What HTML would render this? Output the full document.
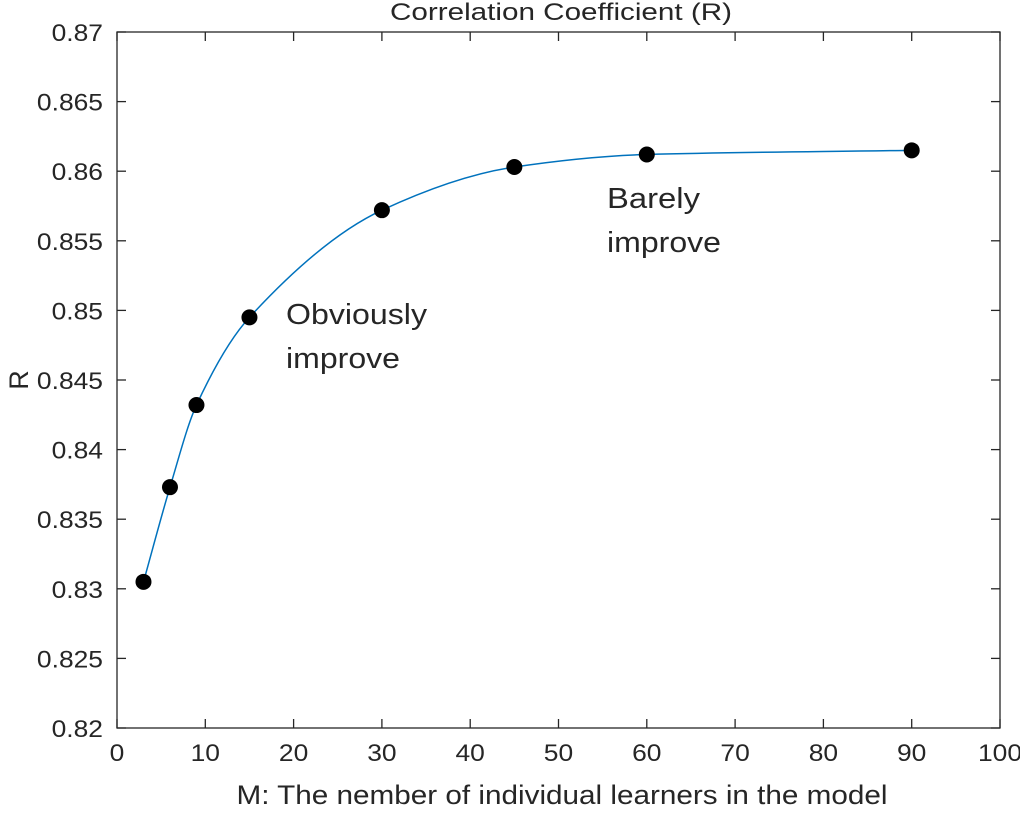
<!DOCTYPE html>
<html><head><meta charset="utf-8"><style>
body{margin:0;background:#fff;}
svg text{font-family:"Liberation Sans",Arial,sans-serif;fill:#262626;}
</style></head><body>
<svg width="1020" height="809">
<g id="g"></g>
</svg>
<script>
const xs=[3,6,9,15,30,45,60,90];
const ys=[0.8305,0.8373,0.8432,0.8495,0.8572,0.8603,0.8612,0.8615];
const xTicks=[0,10,20,30,40,50,60,70,80,90,100];
const yTicks=[0.82,0.825,0.83,0.835,0.84,0.845,0.85,0.855,0.86,0.865,0.87];
const L=117,R=1000,T=32,B=728;
const X=v=>L+(v-0)/100*(R-L);
const Y=v=>B-(v-0.82)/0.05*(B-T);
const NS="http://www.w3.org/2000/svg";
const g=document.getElementById('g');
function el(t,a,txt){const e=document.createElementNS(NS,t);for(const k in a)e.setAttribute(k,a[k]);if(txt!==undefined)e.textContent=txt;g.appendChild(e);return e;}
function stretch(t,f){const w=t.getComputedTextLength();t.setAttribute('textLength',w*f);t.setAttribute('lengthAdjust','spacingAndGlyphs');}
let e=el('rect',{x:L,y:T,width:R-L,height:B-T,fill:'none',stroke:'#262626','stroke-width':1.3});


xTicks.forEach(v=>{const x=X(v);
el('line',{x1:x,x2:x,y1:B,y2:B-9,stroke:'#262626','stroke-width':1.3});
el('line',{x1:x,x2:x,y1:T,y2:T+9,stroke:'#262626','stroke-width':1.3});
const t=el('text',{x:x,y:B+33,'text-anchor':'middle','font-size':24},String(v));
stretch(t,1.1);

});
yTicks.forEach(v=>{const y=Y(v);
el('line',{x1:L,x2:L+9,y1:y,y2:y,stroke:'#262626','stroke-width':1.3});
el('line',{x1:R,x2:R-9,y1:y,y2:y,stroke:'#262626','stroke-width':1.3});
const s=(Math.round(v*1000)/1000).toString();
const t=el('text',{x:L-14,y:y+9,'text-anchor':'end','font-size':24},s);
stretch(t,1.1);

});
const px=xs.map(X),py=ys.map(Y),n=xs.length;
const d=[],m=[];for(let i=0;i<n-1;i++)d.push((py[i+1]-py[i])/(px[i+1]-px[i]));
m[0]=d[0];m[n-1]=d[n-2];for(let i=1;i<n-1;i++)m[i]=d[i-1]*d[i]<=0?0:2/(1/d[i-1]+1/d[i]);
let p=`M${px[0]},${py[0]}`;
for(let i=0;i<n-1;i++){const h=px[i+1]-px[i];p+=` C${px[i]+h/3},${py[i]+m[i]*h/3} ${px[i+1]-h/3},${py[i+1]-m[i+1]*h/3} ${px[i+1]},${py[i+1]}`;}
e=el('path',{d:p,fill:'none',stroke:'#0072BD','stroke-width':1.5});


xs.forEach((v,i)=>{const c=el('circle',{cx:X(v),cy:Y(ys[i]),r:8,fill:'#000'});

});
function lab(x,y,s,fs,name,extra,len){const t=el('text',Object.assign({x:x,y:y,'font-size':fs},extra||{}),s);
if(len){t.setAttribute('textLength',len);t.setAttribute('lengthAdjust','spacingAndGlyphs');}

return t;}
lab(561,20,'Correlation Coefficient (R)',24,'chart-title',{'text-anchor':'middle'},342);
lab(562,804,'M: The nember of individual learners in the model',27,'x-axis-title',{'text-anchor':'middle'},651);
lab(28,380,'R',27,'y-axis-title',{'text-anchor':'middle',transform:'rotate(-90 28 380)'});
lab(286,324,'Obviously',29,'annotation-obviously',{fill:'#000'},141);
lab(286,368,'improve',29,'annotation-obviously',{fill:'#000'},114);
lab(607,208,'Barely',29,'annotation-barely',{fill:'#000'},93);
lab(607,252,'improve',29,'annotation-barely',{fill:'#000'},114);
</script>
</body></html>
